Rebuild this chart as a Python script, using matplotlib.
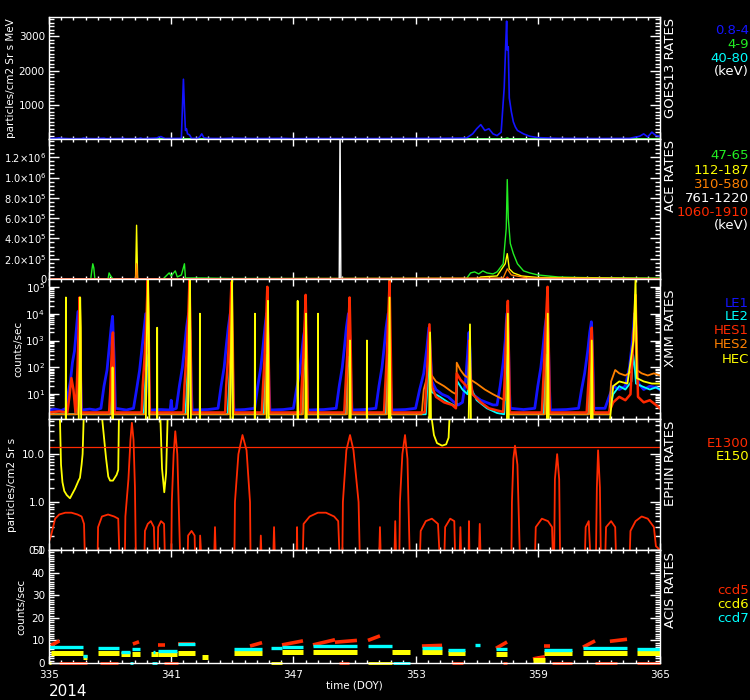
import numpy as np
import matplotlib
matplotlib.use('Agg')
import matplotlib.pyplot as plt
from matplotlib.ticker import FixedLocator, FixedFormatter, LogLocator, NullFormatter, MultipleLocator

# ---------------- DATA ----------------
x_ticks = [335, 341, 347, 353, 359, 365]
x_tick_labels = ['335', '341', '347', '353', '359', '365']
year_label = '2014'

# GOES13 rates (particles/cm2 Sr s MeV)
goes_p1 = [(335.0, 15), (335.4, 25), (335.5, 35), (335.6, 20), (336.0, 10), (336.6, 12), (336.7, 30), (336.8, 15),
           (337.3, 10), (337.7, 25), (337.8, 10), (338.6, 15), (338.65, 30), (338.7, 10), (339.4, 12), (339.5, 30),
           (339.6, 10), (340.3, 30), (340.4, 60), (340.5, 70), (340.6, 40), (340.7, 15), (341.5, 20), (341.55, 900),
           (341.6, 1750), (341.65, 900), (341.7, 250), (341.75, 300), (341.8, 150), (341.9, 120), (342.0, 20),
           (342.3, 20), (342.4, 60), (342.5, 150), (342.6, 40), (342.8, 20), (343.5, 15), (344.0, 25), (345.0, 15),
           (346.5, 20), (347.0, 10), (348.0, 15), (350.0, 12), (352.0, 15), (354.0, 20), (355.5, 30), (355.8, 150),
           (356.0, 300), (356.2, 420), (356.4, 250), (356.6, 300), (356.8, 150), (357.0, 100), (357.2, 200),
           (357.35, 1500), (357.42, 2700), (357.47, 3450), (357.5, 2600), (357.55, 2700), (357.6, 1200),
           (357.7, 800), (357.8, 500), (357.9, 350), (358.0, 250), (358.3, 150), (358.6, 80), (359.0, 40),
           (360.0, 20), (362.0, 15), (363.5, 20), (364.0, 80), (364.2, 150), (364.4, 60), (364.6, 200),
           (364.8, 100), (365.0, 80)]
goes_p2 = [(335.0, 3), (357.4, 3), (357.5, 30), (357.6, 3), (365.0, 3)]
goes_p5 = [(335.0, 1), (365.0, 1)]
goes_labels = ['0.8-4', '4-9', '40-80', '(keV)']

# ACE rates
ace_47 = [(335.0, 0), (337.05, 0), (337.1, 80000), (337.15, 150000), (337.2, 110000), (337.25, 5000), (337.3, 0),
          (337.9, 0), (337.95, 60000), (338.0, 40000), (338.1, 10000), (338.15, 0), (340.6, 0), (340.7, 20000),
          (340.8, 40000), (340.9, 60000), (341.0, 30000), (341.2, 80000), (341.3, 20000), (341.5, 40000),
          (341.65, 150000), (341.7, 10000), (342.5, 10000), (344.0, 5000), (355.5, 5000), (355.7, 60000),
          (355.9, 70000), (356.1, 50000), (356.3, 80000), (356.5, 60000), (356.8, 50000), (357.0, 70000),
          (357.3, 150000), (357.45, 500000), (357.5, 980000), (357.55, 600000), (357.65, 350000), (357.8, 250000),
          (358.0, 150000), (358.3, 80000), (358.6, 60000), (359.0, 40000), (359.5, 30000), (360.0, 20000),
          (361.0, 15000), (362.0, 12000), (363.0, 10000), (364.0, 8000), (365.0, 8000)]
ace_112 = [(335.0, 0), (339.25, 0), (339.3, 530000), (339.35, 0), (356.0, 0), (356.2, 20000), (357.0, 30000),
           (357.4, 150000), (357.5, 250000), (357.6, 100000), (357.8, 60000), (358.2, 30000), (359.0, 15000),
           (365.0, 5000)]
ace_310 = [(335.0, 0), (339.25, 0), (339.3, 150000), (339.35, 0), (357.3, 10000), (357.5, 100000),
           (357.7, 40000), (358.5, 10000), (365.0, 2000)]
ace_761 = [(335.0, 0), (349.25, 0), (349.29, 1500000), (349.33, 0), (365.0, 0)]
ace_1060 = [(335.0, 0), (357.4, 0), (357.5, 20000), (357.6, 0), (365.0, 0)]
ace_labels = ['47-65', '112-187', '310-580', '761-1220', '1060-1910', '(keV)']
ace_yticks = [0, 2e5, 4e5, 6e5, 8e5, 1e6, 1.2e6]
ace_yticklabels = ['0', r'$2.0{\times}10^{5}$', r'$4.0{\times}10^{5}$', r'$6.0{\times}10^{5}$',
                   r'$8.0{\times}10^{5}$', r'$1.0{\times}10^{6}$', r'$1.2{\times}10^{6}$']

# XMM rates (counts/sec)
xmm_le1 = [(335.0, 2.6), (335.3, 2.8), (335.6, 2.5), (335.85, 3), (335.95, 12), (336.05, 30), (336.15, 150),
           (336.25, 400), (336.35, 3000), (336.42, 12000), (336.5, 2000), (336.55, 40), (336.6, 2.6),
           (337.0, 2.8), (337.3, 2.6), (337.55, 3), (337.7, 20), (337.85, 80), (337.95, 500), (338.05, 3000),
           (338.12, 8000), (338.2, 200), (338.26, 3), (338.8, 2.6), (339.15, 3), (339.3, 15), (339.45, 80),
           (339.55, 400), (339.65, 2000), (339.75, 10000), (339.85, 3000), (339.9, 40), (339.95, 2.6),
           (340.5, 2.7), (340.95, 2.6), (341.0, 6), (341.05, 2.6), (341.25, 3), (341.4, 20), (341.55, 100),
           (341.65, 500), (341.75, 3000), (341.85, 10000), (341.93, 2000), (341.98, 30), (342.03, 2.6),
           (342.8, 2.7), (343.3, 3), (343.45, 20), (343.6, 100), (343.7, 600), (343.8, 3000), (343.9, 10000),
           (343.98, 2000), (344.03, 30), (344.08, 2.6), (344.6, 2.7), (345.1, 3), (345.25, 20), (345.4, 100),
           (345.5, 500), (345.6, 3000), (345.68, 10000), (345.76, 1000), (345.8, 20), (345.85, 2.6),
           (346.5, 2.7), (347.0, 3), (347.15, 15), (347.3, 60), (347.4, 300), (347.5, 1500), (347.58, 3000),
           (347.64, 200), (347.7, 2.6), (348.5, 2.7), (349.1, 3), (349.25, 20), (349.4, 100), (349.5, 500),
           (349.6, 3000), (349.7, 10000), (349.78, 1000), (349.83, 20), (349.88, 2.6), (350.5, 2.7),
           (351.05, 3), (351.2, 20), (351.35, 100), (351.45, 500), (351.55, 3000), (351.65, 10000),
           (351.73, 1000), (351.78, 20), (351.83, 2.6), (352.5, 2.7), (353.0, 3), (353.2, 15), (353.4, 60),
           (353.55, 500), (353.65, 3000), (353.72, 500), (353.8, 30), (354.0, 15), (354.3, 10), (354.6, 8),
           (354.9, 5), (355.1, 4), (355.3, 5), (355.45, 30), (355.55, 300), (355.62, 2000), (355.68, 300),
           (355.72, 20), (355.8, 10), (356.2, 6), (356.8, 4), (357.0, 4), (357.15, 20), (357.3, 150),
           (357.4, 1000), (357.48, 10000), (357.56, 1000), (357.6, 20), (357.65, 3), (358.3, 2.7), (358.85, 3),
           (359.0, 20), (359.15, 100), (359.25, 500), (359.35, 3000), (359.45, 10000), (359.52, 1000),
           (359.57, 20), (359.62, 2.6), (360.4, 2.7), (361.0, 3), (361.15, 15), (361.3, 60), (361.45, 400),
           (361.55, 2000), (361.63, 5000), (361.7, 200), (361.75, 3), (362.3, 3), (362.5, 8), (362.7, 20),
           (363.0, 15), (363.3, 20), (363.5, 100), (363.65, 1000), (363.75, 10000), (363.82, 3000),
           (363.87, 50), (363.95, 25), (364.2, 15), (364.5, 20), (364.8, 18), (365.0, 15)]
xmm_le2 = [(335.0, 1.8), (336.3, 1.8), (336.4, 20), (336.47, 150), (336.53, 60), (336.58, 1.8), (338.0, 1.8),
           (338.06, 15), (338.12, 80), (338.18, 1.8), (339.65, 1.8), (339.73, 30), (339.8, 300), (339.87, 100),
           (339.92, 1.8), (341.7, 1.8), (341.78, 30), (341.85, 300), (341.92, 100), (341.97, 1.8), (343.77, 1.8),
           (343.85, 30), (343.92, 300), (343.99, 100), (344.04, 1.8), (345.53, 1.8), (345.6, 30), (345.67, 300),
           (345.74, 100), (345.79, 1.8), (347.4, 1.8), (347.47, 20), (347.54, 200), (347.61, 80), (347.66, 1.8),
           (349.56, 1.8), (349.63, 30), (349.7, 250), (349.77, 100), (349.82, 1.8), (351.52, 1.8), (351.59, 30),
           (351.66, 300), (351.73, 100), (351.78, 1.8), (353.5, 1.8), (353.58, 20), (353.66, 200), (353.72, 50),
           (353.8, 12), (354.2, 8), (354.6, 5), (355.0, 3.5), (355.05, 30), (355.3, 15), (355.55, 10),
           (355.62, 200), (355.68, 20), (356.0, 6), (356.5, 3), (357.0, 2), (357.35, 1.8), (357.42, 30),
           (357.49, 300), (357.56, 80), (357.61, 1.8), (359.28, 1.8), (359.35, 30), (359.42, 300), (359.49, 100),
           (359.54, 1.8), (361.45, 1.8), (361.52, 20), (361.59, 150), (361.65, 50), (361.71, 1.8), (362.5, 1.8),
           (362.7, 10), (363.0, 20), (363.3, 15), (363.6, 30), (363.68, 300), (363.76, 100), (363.82, 25),
           (364.1, 20), (364.5, 15), (364.8, 18), (365.0, 15)]
xmm_hes1 = [(335.0, 2.1), (335.5, 2.3), (335.9, 2.1), (336.0, 8), (336.1, 40), (336.2, 15), (336.3, 2.1),
            (336.35, 10), (336.4, 100), (336.45, 2000), (336.5, 40000), (336.55, 500), (336.58, 2.1),
            (337.95, 2.1), (338.0, 10), (338.05, 100), (338.1, 1000), (338.14, 2000), (338.18, 100), (338.22, 2.1),
            (339.55, 2.1), (339.6, 20), (339.7, 300), (339.78, 5000), (339.85, 200000), (339.9, 1000), (339.95, 2.1),
            (341.6, 2.1), (341.65, 20), (341.75, 300), (341.83, 5000), (341.9, 200000), (341.95, 1000), (342.0, 2.1),
            (343.65, 2.1), (343.7, 20), (343.8, 300), (343.88, 5000), (343.96, 150000), (344.02, 1000), (344.07, 2.1),
            (345.45, 2.1), (345.5, 15), (345.58, 200), (345.65, 3000), (345.72, 100000), (345.78, 500), (345.83, 2.1),
            (347.35, 2.1), (347.4, 15), (347.48, 200), (347.55, 3000), (347.6, 50000), (347.66, 300), (347.71, 2.1),
            (349.5, 2.1), (349.55, 15), (349.63, 200), (349.7, 3000), (349.76, 40000), (349.82, 300), (349.87, 2.1),
            (351.45, 2.1), (351.5, 15), (351.58, 200), (351.65, 5000), (351.72, 150000), (351.78, 500), (351.83, 2.1),
            (353.45, 2.1), (353.5, 10), (353.6, 200), (353.68, 4000), (353.74, 200), (353.8, 20), (354.0, 8),
            (354.4, 5), (354.8, 4), (354.98, 3), (355.02, 60), (355.2, 35), (355.5, 20), (355.6, 15),
            (355.64, 1000), (355.69, 40), (355.8, 10), (356.2, 5), (356.6, 3), (357.0, 2.5), (357.3, 2.2),
            (357.35, 15), (357.42, 300), (357.48, 5000), (357.53, 30000), (357.58, 300), (357.63, 2.1),
            (359.2, 2.1), (359.25, 15), (359.33, 300), (359.4, 5000), (359.48, 100000), (359.54, 500), (359.59, 2.1),
            (361.4, 2.1), (361.45, 10), (361.53, 100), (361.6, 1000), (361.65, 3000), (361.7, 100), (361.75, 2.1),
            (362.5, 2.1), (362.7, 5), (363.0, 8), (363.3, 6), (363.55, 10), (363.65, 300), (363.75, 5000),
            (363.8, 50000), (363.86, 500), (363.92, 8), (364.2, 5), (364.5, 6), (364.8, 4), (365.0, 3)]
xmm_hes2 = [(335.0, 1.8), (336.42, 1.8), (336.48, 500), (336.52, 20000), (336.56, 1.8), (338.06, 1.8),
            (338.12, 500), (338.17, 1.8), (339.72, 1.8), (339.8, 3000), (339.86, 100000), (339.92, 1.8),
            (341.78, 1.8), (341.85, 3000), (341.91, 100000), (341.97, 1.8), (343.84, 1.8), (343.91, 3000),
            (343.97, 100000), (344.03, 1.8), (345.6, 1.8), (345.67, 2000), (345.73, 50000), (345.79, 1.8),
            (347.47, 1.8), (347.54, 2000), (347.6, 30000), (347.66, 1.8), (349.63, 1.8), (349.7, 2000),
            (349.76, 20000), (349.82, 1.8), (351.59, 1.8), (351.66, 3000), (351.72, 200000), (351.78, 1.8),
            (353.3, 1.8), (353.4, 15), (353.55, 40), (353.66, 1500), (353.72, 60), (354.0, 30), (354.4, 20),
            (354.8, 12), (355.0, 10), (355.02, 150), (355.2, 80), (355.4, 50), (355.6, 40), (355.64, 600),
            (355.7, 35), (356.0, 25), (356.4, 15), (356.8, 10), (357.2, 7), (357.38, 6), (357.42, 500),
            (357.5, 20000), (357.57, 1.8), (359.35, 1.8), (359.42, 3000), (359.48, 80000), (359.54, 1.8),
            (361.52, 1.8), (361.6, 500), (361.66, 2000), (361.72, 1.8), (362.5, 1.8), (362.6, 30), (362.8, 80),
            (363.0, 60), (363.3, 50), (363.6, 70), (363.7, 2000), (363.8, 30000), (363.86, 80), (364.1, 60),
            (364.4, 50), (364.7, 60), (365.0, 50)]
xmm_hec = [(335.0, 0.5), (335.82, 0.5), (335.83, 40000), (335.84, 0.5), (336.45, 0.5), (336.5, 100),
           (336.53, 40000), (336.56, 3000), (336.58, 0.5), (338.1, 0.5), (338.12, 100), (338.15, 0.5),
           (339.75, 0.5), (339.8, 1000), (339.86, 200000), (339.9, 3000), (339.93, 0.5), (340.3, 0.5),
           (340.31, 3000), (340.32, 0.5), (341.82, 0.5), (341.87, 3000), (341.92, 200000), (341.97, 0.5),
           (342.4, 0.5), (342.41, 10000), (342.42, 0.5), (343.9, 0.5), (343.95, 3000), (343.99, 200000),
           (344.04, 0.5), (345.1, 0.5), (345.11, 10000), (345.12, 0.5), (345.68, 0.5), (345.72, 1000),
           (345.75, 30000), (345.79, 0.5), (347.2, 0.5), (347.21, 30000), (347.22, 0.5), (347.58, 0.5),
           (347.62, 10000), (347.66, 0.5), (348.2, 0.5), (348.21, 10000), (348.22, 0.5), (349.74, 0.5),
           (349.78, 1000), (349.82, 0.5), (350.6, 0.5), (350.61, 1000), (350.62, 0.5), (351.68, 0.5),
           (351.72, 40000), (351.77, 0.5), (353.66, 0.5), (353.71, 2000), (353.76, 0.5), (355.6, 0.5),
           (355.67, 4000), (355.72, 0.5), (357.48, 0.5), (357.53, 10000), (357.58, 0.5), (359.44, 0.5),
           (359.49, 10000), (359.54, 0.5), (361.6, 0.5), (361.65, 1000), (361.7, 0.5), (362.5, 0.5),
           (362.7, 20), (363.0, 30), (363.4, 25), (363.7, 1000), (363.8, 200000), (363.86, 40), (364.2, 30),
           (364.6, 25), (365.0, 25)]
xmm_labels = ['LE1', 'LE2', 'HES1', 'HES2', 'HEC']
xmm_yticks = [1e1, 1e2, 1e3, 1e4, 1e5]
xmm_yticklabels = [r'$10^{1}$', r'$10^{2}$', r'$10^{3}$', r'$10^{4}$', r'$10^{5}$']

# EPHIN rates (particles/cm2 Sr s)
ephin_e1300 = [(335.0, 0.15), (335.1, 0.2), (335.2, 0.3), (335.3, 0.45), (335.5, 0.55), (335.8, 0.6), (336.1, 0.6),
               (336.4, 0.55), (336.6, 0.5), (336.72, 0.35), (336.77, 0.05), (337.38, 0.05), (337.41, 0.3),
               (337.6, 0.5), (337.9, 0.55), (338.2, 0.5), (338.4, 0.45), (338.47, 0.05), (338.72, 0.05),
               (338.75, 0.5), (338.9, 3), (339.0, 20), (339.07, 45), (339.15, 20), (339.22, 2), (339.27, 0.05),
               (339.68, 0.05), (339.71, 0.25), (339.85, 0.35), (340.0, 0.4), (340.15, 0.3), (340.2, 0.05),
               (340.33, 0.05), (340.36, 0.3), (340.5, 0.4), (340.65, 0.35), (340.7, 0.05), (341.0, 0.05),
               (341.03, 1), (341.12, 10), (341.2, 30), (341.3, 10), (341.45, 0.05), (341.8, 0.05), (341.83, 0.2),
               (342.0, 0.25), (342.15, 0.2), (342.18, 0.05), (342.4, 0.05), (342.42, 0.2), (342.5, 0.05),
               (343.1, 0.05), (343.15, 0.3), (343.2, 0.05), (344.1, 0.05), (344.13, 1), (344.3, 10), (344.5, 25),
               (344.7, 12), (344.87, 1), (344.9, 0.05), (345.36, 0.05), (345.4, 0.2), (345.45, 0.05), (346.0, 0.05),
               (346.05, 0.3), (346.1, 0.05), (347.15, 0.05), (347.18, 0.3), (347.2, 0.05), (347.45, 0.05),
               (347.5, 0.35), (347.8, 0.5), (348.2, 0.6), (348.6, 0.6), (349.0, 0.5), (349.2, 0.4), (349.28, 0.05),
               (349.4, 0.05), (349.43, 1), (349.6, 12), (349.78, 25), (349.95, 12), (350.2, 1), (350.27, 0.05),
               (351.2, 0.05), (351.25, 0.3), (351.3, 0.05), (351.95, 0.05), (352.0, 0.4), (352.05, 0.05),
               (352.2, 0.05), (352.23, 1), (352.35, 10), (352.48, 25), (352.6, 8), (352.72, 0.05), (353.2, 0.05),
               (353.25, 0.25), (353.5, 0.4), (353.8, 0.45), (354.1, 0.35), (354.2, 0.05), (354.4, 0.05),
               (354.45, 0.3), (354.7, 0.45), (354.9, 0.4), (354.95, 0.05), (355.15, 0.05), (355.2, 0.3),
               (355.25, 0.05), (355.6, 0.05), (355.62, 0.4), (355.65, 0.05), (356.1, 0.05), (356.15, 0.35),
               (356.2, 0.05), (357.7, 0.05), (357.73, 1), (357.8, 8), (357.88, 15), (358.0, 6), (358.13, 0.05),
               (358.85, 0.05), (358.9, 0.3), (359.2, 0.45), (359.5, 0.4), (359.7, 0.3), (359.75, 0.05),
               (359.8, 0.05), (359.84, 3), (359.95, 10), (360.05, 3), (360.1, 0.05), (361.3, 0.05), (361.35, 0.3),
               (361.5, 0.4), (361.6, 0.05), (361.85, 0.05), (361.9, 2), (361.96, 12), (362.05, 2), (362.1, 0.05),
               (362.3, 0.05), (362.35, 0.3), (362.6, 0.4), (362.8, 0.3), (362.85, 0.05), (363.5, 0.05),
               (363.55, 0.25), (363.8, 0.4), (364.1, 0.5), (364.4, 0.45), (364.7, 0.3), (364.8, 0.12), (365.0, 0.1)]
ephin_e150 = [(335.0, 100), (335.5, 100), (335.54, 50), (335.59, 6), (335.66, 2.6), (335.75, 1.7), (335.87, 1.4),
              (336.03, 1.2), (336.15, 1.5), (336.28, 1.9), (336.45, 2.8), (336.52, 3.2), (336.6, 6), (336.65, 10),
              (336.72, 100), (337.55, 100), (337.8, 8.3), (337.91, 3.4), (338.0, 2.8), (338.14, 2.8), (338.32, 3.7),
              (338.4, 4.7), (338.44, 100), (340.45, 100), (340.55, 5), (340.66, 1.6), (340.75, 4), (340.84, 100),
              (353.71, 100), (353.9, 25), (354.05, 17), (354.3, 15), (354.5, 16), (354.62, 22), (354.69, 100),
              (365.0, 100)]
ephin_threshold = 14.0
ephin_labels = ['E1300', 'E150']

# ACIS rates (counts/sec): (start DOY, end DOY, level)
acis_ccd7 = [(335.0, 336.67, 7.0), (336.67, 336.87, 3.3), (337.41, 338.44, 6.5), (338.54, 338.98, 5.0),
             (339.08, 339.47, 6.3), (340.11, 340.2, 5.0), (340.35, 341.28, 5.3), (341.33, 342.17, 8.2),
             (344.08, 345.46, 6.0), (345.9, 346.44, 6.8), (346.44, 347.47, 7.3), (347.96, 350.12, 7.6),
             (350.66, 351.84, 7.6), (353.31, 354.3, 6.8), (354.59, 355.43, 5.6), (355.92, 356.16, 8.0),
             (356.95, 357.49, 6.2), (359.3, 360.68, 5.8), (361.22, 363.38, 6.6), (363.87, 365.0, 6.3)]
acis_ccd6 = [(335.1, 336.67, 4.6), (336.67, 336.87, 2.5), (337.41, 338.44, 4.5), (338.54, 338.98, 4.0),
             (339.08, 339.47, 4.0), (340.0, 340.35, 3.8), (340.35, 341.28, 4.0), (341.33, 342.17, 4.5),
             (342.51, 342.81, 2.5), (344.08, 345.46, 4.5), (346.44, 347.47, 4.8), (347.96, 350.12, 5.0),
             (351.84, 352.72, 5.0), (353.31, 354.3, 5.0), (354.59, 355.43, 4.5), (356.95, 357.49, 4.0),
             (358.76, 359.35, 1.3), (359.3, 360.68, 4.5), (361.22, 363.38, 4.6), (363.87, 365.0, 4.6)]
acis_ccd5 = [(335.08, 335.51, 7.7, 9.8), (339.12, 339.42, 8.4, 9.4), (340.35, 340.7, 7.8, 7.8),
             (341.33, 342.17, 8.6, 8.6), (344.87, 345.46, 7.5, 9.0), (346.44, 347.47, 8.0, 9.8),
             (347.96, 349.04, 8.0, 10.3), (349.04, 350.12, 9.2, 10.0), (350.66, 351.25, 10.0, 12.0),
             (353.31, 354.3, 7.5, 7.8), (356.95, 357.49, 6.5, 9.3), (358.76, 359.35, 1.8, 2.8),
             (359.3, 359.6, 7.5, 7.5), (361.22, 361.81, 7.0, 9.8), (362.54, 363.38, 9.6, 10.5)]
acis_zero = [(335.49, 336.87, 'ccd5'), (337.5, 338.39, 'ccd5'), (340.65, 341.33, 'ccd5'), (349.24, 349.73, 'ccd5'),
             (354.79, 355.33, 'ccd5'), (357.29, 357.49, 'ccd5'), (359.7, 360.68, 'ccd5'), (361.81, 362.89, 'ccd5'),
             (363.87, 365.0, 'ccd5'), (335.0, 335.1, 'ccd6'), (345.9, 346.44, 'ccd6'), (350.66, 351.84, 'ccd6'),
             (338.98, 339.12, 'ccd7'), (340.06, 340.3, 'ccd7'), (351.89, 352.72, 'ccd7')]
acis_labels = ['ccd5', 'ccd6', 'ccd7']

# ---------------- STYLE ----------------
W, H = 750, 700
BLUE = '#1414ff'
GREEN = '#22ee22'
CYAN = '#00ffff'
RED = '#ff2a00'
ORANGE = '#ff8000'
YELLOW = '#ffff00'
WHITE = '#ffffff'

plt.rcParams['font.family'] = ['DejaVu Sans']
plt.rcParams['mathtext.fontset'] = 'dejavusans'

fig = plt.figure(figsize=(W / 100, H / 100), dpi=100, facecolor='black')


def add_panel(top, bottom):
    return fig.add_axes([49 / W, 1 - bottom / H, 611 / W, (bottom - top) / H], facecolor='black')


def style(ax):
    for s in ax.spines.values():
        s.set_color(WHITE)
        s.set_linewidth(1.0)
    ax.set_xlim(335, 365)
    ax.xaxis.set_major_locator(FixedLocator(x_ticks))
    ax.xaxis.set_minor_locator(FixedLocator(np.arange(335, 365.001, 0.6)))
    ax.tick_params(which='both', direction='in', colors=WHITE, top=True, right=True,
                   labelsize=7.5, labelcolor=WHITE)
    ax.tick_params(axis='y', which='major', length=7, width=1, pad=3)
    ax.tick_params(axis='y', which='minor', length=3.5, width=1)
    ax.tick_params(axis='x', which='major', length=5, width=1)
    ax.tick_params(axis='x', which='minor', length=2.5, width=1)
    ax.tick_params(axis='x', labelbottom=False)


def xy(pairs):
    return [p[0] for p in pairs], [p[1] for p in pairs]


def ftext(xp, yp, s, **kw):
    fig.text(xp / W, 1 - yp / H, s, **kw)


# ---- Panel 1: GOES ----
ax1 = add_panel(17, 139)
style(ax1)
for series, col in [(goes_p5, CYAN), (goes_p2, GREEN), (goes_p1, BLUE)]:
    ax1.plot(*xy(series), color=col, lw=1.2)
ax1.set_ylim(0, 3570)
ax1.yaxis.set_major_locator(FixedLocator([1000, 2000, 3000]))
ax1.yaxis.set_minor_locator(MultipleLocator(100))

# ---- Panel 2: ACE ----
ax2 = add_panel(139, 279)
style(ax2)
for series, col in [(ace_47, GREEN), (ace_112, YELLOW), (ace_310, ORANGE), (ace_761, WHITE), (ace_1060, RED)]:
    ax2.plot(*xy(series), color=col, lw=1.0)
ax2.set_ylim(0, 1.38e6)
ax2.yaxis.set_major_locator(FixedLocator(ace_yticks))
ax2.yaxis.set_major_formatter(FixedFormatter(ace_yticklabels))
ax2.yaxis.set_minor_locator(MultipleLocator(4e4))
ax2.tick_params(axis='y', labelsize=7.1, pad=2)

# ---- Panel 3: XMM ----
ax3 = add_panel(279, 419)
style(ax3)
ax3.set_yscale('log')
for series, col, lw in [(xmm_le1, BLUE, 2.0), (xmm_le2, CYAN, 1.3), (xmm_hes2, ORANGE, 1.3),
                        (xmm_hes1, RED, 1.8), (xmm_hec, YELLOW, 1.3)]:
    ax3.plot(*xy(series), color=col, lw=lw)
ax3.set_ylim(1.2, 1.95e5)
ax3.yaxis.set_major_locator(FixedLocator(xmm_yticks))
ax3.yaxis.set_major_formatter(FixedFormatter(xmm_yticklabels))
ax3.yaxis.set_minor_locator(LogLocator(base=10, subs=np.arange(2, 10)))
ax3.yaxis.set_minor_formatter(NullFormatter())

# ---- Panel 4: EPHIN ----
ax4 = add_panel(419, 550)
style(ax4)
ax4.set_yscale('log')
ax4.plot(*xy(ephin_e150), color=YELLOW, lw=1.3)
ax4.plot(*xy(ephin_e1300), color=RED, lw=1.3)
ax4.axhline(ephin_threshold, color=RED, lw=0.9)
ax4.set_ylim(0.1, 54)
ax4.yaxis.set_major_locator(FixedLocator([0.1, 1.0, 10.0]))
ax4.yaxis.set_major_formatter(FixedFormatter(['0.1', '1.0', '10.0']))
ax4.yaxis.set_minor_locator(LogLocator(base=10, subs=np.arange(2, 10)))
ax4.yaxis.set_minor_formatter(NullFormatter())

# ---- Panel 5: ACIS ----
ax5 = add_panel(550, 663)
style(ax5)
zero_cols = {'ccd5': RED, 'ccd6': YELLOW, 'ccd7': CYAN}
for s, e, c in acis_zero:
    ax5.plot([s, e], [0, 0], color=zero_cols[c], lw=2.0, clip_on=False, solid_capstyle='butt')
for s, e, v0, v1 in acis_ccd5:
    ax5.plot([s, e], [v0, v1], color=RED, lw=2.6, solid_capstyle='butt')
for s, e, v in acis_ccd6:
    ax5.plot([s, e], [v, v], color=YELLOW, lw=3.6, solid_capstyle='butt')
for s, e, v in acis_ccd7:
    ax5.plot([s, e], [v, v], color=CYAN, lw=2.4, solid_capstyle='butt')
ax5.set_ylim(0, 50)
ax5.yaxis.set_major_locator(MultipleLocator(10))
ax5.yaxis.set_minor_locator(MultipleLocator(1))
ax5.tick_params(axis='x', labelbottom=True, pad=5)
ax5.set_xticklabels(x_tick_labels)

# ---- texts ----
ylab_kw = dict(rotation=90, ha='center', va='center', color=WHITE, fontsize=7.5)
ftext(11, 78, 'particles/cm2 Sr s MeV', **ylab_kw)
ftext(18.5, 349, 'counts/sec', **ylab_kw)
ftext(12.5, 484.5, 'particles/cm2 Sr s', **ylab_kw)
ftext(21.5, 606.5, 'counts/sec', **ylab_kw)

side_kw = dict(rotation=90, ha='center', va='top', color=WHITE, fontsize=9.5)
ftext(671, 18, 'GOES13 RATES', **side_kw)
ftext(671, 140, 'ACE RATES', **side_kw)
ftext(671, 289, 'XMM RATES', **side_kw)
ftext(671, 421, 'EPHIN RATES', **side_kw)
ftext(671, 552, 'ACIS RATES', **side_kw)

leg_kw = dict(ha='right', va='center', fontsize=9.5)
for lab, col, yp in zip(goes_labels, [BLUE, GREEN, CYAN, WHITE], [31, 45, 58, 72]):
    ftext(749, yp, lab, color=col, **leg_kw)
for lab, col, yp in zip(ace_labels, [GREEN, YELLOW, ORANGE, WHITE, RED, WHITE], [155.7, 170, 184, 198.3, 212, 226]):
    ftext(749, yp, lab, color=col, **leg_kw)
for lab, col, yp in zip(xmm_labels, [BLUE, CYAN, RED, ORANGE, YELLOW], [303.3, 316.7, 331, 345, 359.3]):
    ftext(749, yp, lab, color=col, **leg_kw)
for lab, col, yp in zip(ephin_labels, [RED, YELLOW], [443.3, 456.7]):
    ftext(749, yp, lab, color=col, **leg_kw)
for lab, col, yp in zip(acis_labels, [RED, YELLOW, CYAN], [590, 604.5, 619]):
    ftext(749, yp, lab, color=col, **leg_kw)

ftext(354.5, 685, 'time (DOY)', ha='center', va='center', color=WHITE, fontsize=7.5)
ftext(49, 692, year_label, ha='left', va='center', color=WHITE, fontsize=11)

fig.savefig('out.png', dpi=100, facecolor='black')
